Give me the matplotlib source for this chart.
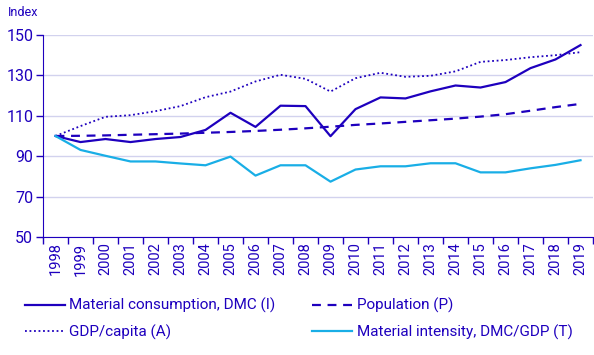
import matplotlib
matplotlib.use("Agg")
import matplotlib.pyplot as plt
import numpy as np

years = [str(y) for y in range(1998, 2020)]
dmc = [100, 97, 98.5, 97, 98.5, 99.5, 103, 111.5, 104.5, 115, 114.8, 99.9,
       113.3, 119.1, 118.6, 122.1, 125, 124, 126.7, 133.6, 137.9, 145]
population = [100, 100.1, 100.3, 100.6, 100.9, 101.2, 101.6, 102.0, 102.5, 103.1, 103.8,
              104.6, 105.5, 106.2, 107.0, 107.8, 108.6, 109.6, 110.8, 112.5, 114.3, 115.9]
gdp_capita = [100, 104.9, 109.5, 110.3, 112.3, 114.8, 119.2, 122, 127, 130.3, 128.3,
              122, 128.6, 131.3, 129.3, 129.8, 132, 136.7, 137.6, 139, 140, 141.5]
intensity = [100, 93.1, 90.2, 87.4, 87.4, 86.4, 85.5, 89.8, 80.4, 85.5, 85.5,
             77.4, 83.4, 85.0, 85.0, 86.5, 86.5, 82.0, 82.0, 84.0, 85.7, 88.0]
y_ticks = [50, 70, 90, 110, 130, 150]

DARK = "#1e00be"
LIGHT = "#19aee6"
GRID = "#d2d2ee"

plt.rcParams["font.family"] = ["Roboto", "DejaVu Sans"]

fig = plt.figure(figsize=(5.94, 3.55), dpi=100)
ax = fig.add_axes([43 / 594, 1 - 237 / 355, 550 / 594, 202 / 355])

x = np.arange(len(years))
ax.plot(x, dmc, color=DARK, lw=1.6, label="Material consumption, DMC (I)")
ax.plot(x, population, color=DARK, lw=1.6, ls=(0, (4, 3)), label="Population (P)")
ax.plot(x, gdp_capita, color=DARK, lw=1.3, ls=(0, (1, 1.5)), label="GDP/capita (A)")
ax.plot(x, intensity, color=LIGHT, lw=1.6, label="Material intensity, DMC/GDP (T)")

ax.set_xlim(-0.5, len(years) - 0.5)
ax.set_ylim(50, 150)
ax.set_yticks(y_ticks)
ax.set_xticks(x)
ax.set_xticklabels(years, rotation=90, fontsize=10.5, color=DARK)
ax.set_xticks(np.arange(-0.5, len(years)), minor=True)
ax.tick_params(axis="x", which="major", length=0, pad=4)
ax.tick_params(axis="x", which="minor", length=5, color=DARK, width=1)
ax.tick_params(axis="y", length=5, color=DARK, width=1, labelsize=11.5, labelcolor=DARK, pad=2)
ax.grid(axis="y", color=GRID, lw=1)
ax.set_axisbelow(True)
for side in ["top", "right"]:
    ax.spines[side].set_visible(False)
ax.spines["left"].set_color(DARK)
ax.spines["bottom"].set_color(DARK)

fig.text(8 / 594, 1 - 12 / 355, "Index", color=DARK, fontsize=9, va="center")

handles, labels = ax.get_legend_handles_labels()
order = [0, 2, 1, 3]
leg = fig.legend([handles[i] for i in order], [labels[i] for i in order],
                 loc="upper left", bbox_to_anchor=(25 / 594, 1 - 298 / 355),
                 ncol=2, frameon=False, fontsize=11, handlelength=2.6,
                 handletextpad=0.3, columnspacing=2.4, labelspacing=0.75,
                 borderaxespad=0, borderpad=0)
for t in leg.get_texts():
    t.set_color(DARK)

fig.savefig("out.png", dpi=100)
